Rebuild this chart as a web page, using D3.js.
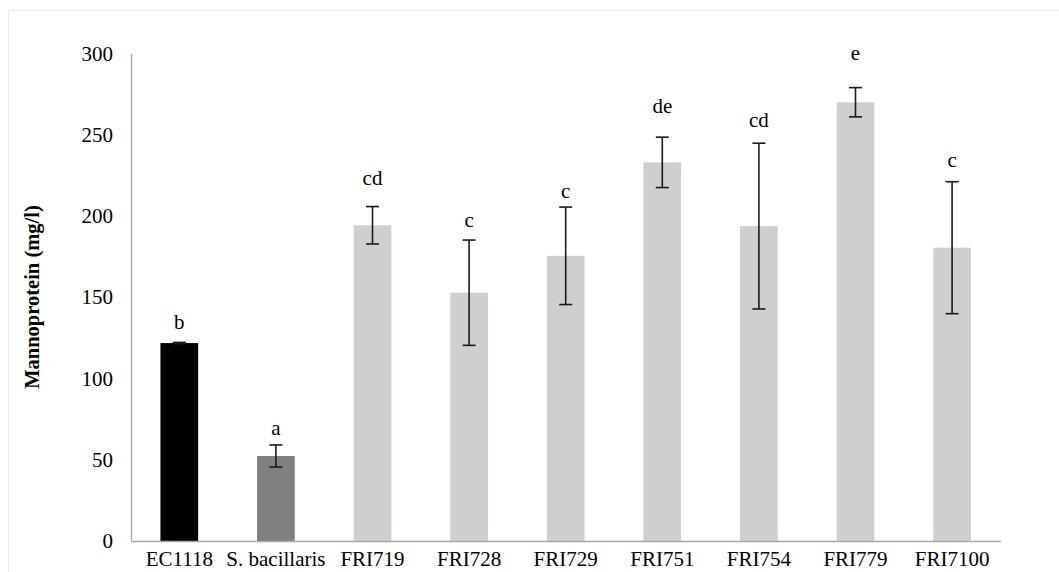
<!DOCTYPE html>
<html>
<head>
<meta charset="utf-8">
<style>
  body { margin: 0; background: #fff; }
  svg text { font-family: "Liberation Serif", "Times New Roman", serif; fill: #000; }
</style>
<script src="https://d3js.org/d3.v7.min.js"></script>
</head>
<body>
<svg width="1059" height="572"></svg>
<script>
// values (mg/l)
var categories = ["EC1118", "S. bacillaris", "FRI719", "FRI728", "FRI729", "FRI751", "FRI754", "FRI779", "FRI7100"];
var means      = [121.8, 52.3, 194.3, 152.8, 175.5, 233.0, 193.8, 270.0, 180.5];
var errors     = [0.4, 6.8, 11.5, 32.4, 30.0, 15.5, 51.0, 9.0, 40.6];
var letters    = ["b", "a", "cd", "c", "c", "de", "cd", "e", "c"];
var letterAt   = [134.3, 69.5, 223.4, 197.5, 215, 267.3, 259, 300.3, 234.5];
var barColors  = ["#000000", "#808080", "#d0cece", "#d0cece", "#d0cece", "#d0cece", "#d0cece", "#d0cece", "#d0cece"];
var yTicks     = [0, 50, 100, 150, 200, 250, 300];

var svg = d3.select("svg");

// light frame around the chart area
svg.append("rect")
    .attr("x", 8.5).attr("y", 10.5)
    .attr("width", 1070).attr("height", 580)
    .attr("fill", "none")
    .attr("stroke", "#ebebeb");

var x = d3.scaleBand()
    .domain(categories)
    .range([131, 1000.4])
    .paddingInner(0.61)
    .paddingOuter(0.305);

var y = d3.scaleLinear()
    .domain([0, 300])
    .range([541, 53.5]);

var rows = categories.map(function(c, i) {
  return { cat: c, mean: means[i], err: errors[i], letter: letters[i], lab: letterAt[i], color: barColors[i] };
});

// bars
svg.append("g").selectAll("rect")
    .data(rows)
  .enter().append("rect")
    .attr("x", function(d) { return x(d.cat); })
    .attr("y", function(d) { return y(d.mean); })
    .attr("width", x.bandwidth())
    .attr("height", function(d) { return y(0) - y(d.mean); })
    .attr("fill", function(d) { return d.color; });

// axes
var yAxis = svg.append("g")
    .attr("transform", "translate(131,0)")
    .call(d3.axisLeft(y).tickValues(yTicks).tickSize(0).tickPadding(18));
yAxis.select(".domain").attr("stroke", "#a6a6a6").attr("stroke-width", 1.3);
yAxis.selectAll("text")
    .style("font-family", "Liberation Serif")
    .style("font-size", "21px")
    .attr("fill", "#000");

var xAxis = svg.append("g")
    .attr("transform", "translate(0,541)")
    .call(d3.axisBottom(x).tickSize(0).tickPadding(7));
xAxis.select(".domain").attr("stroke", "#a6a6a6").attr("stroke-width", 1.3);
xAxis.selectAll("text")
    .style("font-family", "Liberation Serif")
    .style("font-size", "21px")
    .attr("fill", "#000")
    .attr("dy", "0.88em");

// error bars
var eb = svg.append("g").attr("stroke", "#1a1a1a").attr("stroke-width", 1.6);
rows.forEach(function(d) {
  var cx = x(d.cat) + x.bandwidth() / 2;
  var top = y(d.mean + d.err), bot = y(d.mean - d.err);
  eb.append("line").attr("x1", cx).attr("x2", cx).attr("y1", top).attr("y2", bot);
  eb.append("line").attr("x1", cx - 6.5).attr("x2", cx + 6.5).attr("y1", top).attr("y2", top);
  eb.append("line").attr("x1", cx - 6.5).attr("x2", cx + 6.5).attr("y1", bot).attr("y2", bot);
});

// significance letters
svg.append("g").selectAll("text")
    .data(rows)
  .enter().append("text")
    .attr("x", function(d) { return x(d.cat) + x.bandwidth() / 2; })
    .attr("y", function(d) { return y(d.lab); })
    .attr("dy", "0.32em")
    .attr("text-anchor", "middle")
    .style("font-size", "21px")
    .text(function(d) { return d.letter; });

// y axis title
svg.append("text")
    .attr("transform", "translate(39,297) rotate(-90)")
    .attr("text-anchor", "middle")
    .style("font-size", "20.5px")
    .style("font-weight", "bold")
    .text("Mannoprotein (mg/l)");
</script>
</body>
</html>
